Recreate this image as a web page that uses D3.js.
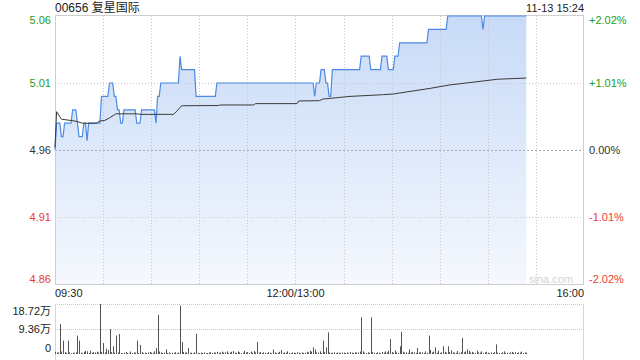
<!DOCTYPE html>
<html>
<head>
<meta charset="utf-8">
<script src="https://cdn.jsdelivr.net/npm/d3@7"></script>
<style>
  body { margin: 0; background: #fff; }
  svg { display: block; font-family: "Liberation Sans", Arial, "Noto Sans CJK SC", sans-serif; }
</style>
</head>
<body>
<div id="chart"></div>
<script>
const title = '00656 复星国际';
const stamp = '11-13 15:24';
const prevClose = 4.96;
const priceTicks = [5.06, 5.01, 4.96, 4.91, 4.86];
const pctTicks = ['+2.02%', '+1.01%', '0.00%', '-1.01%', '-2.02%'];
const timeTicks = [[0, '09:30'], [150, '12:00/13:00'], [330, '16:00']];
const volTicks = [[18.72, '18.72万'], [9.36, '9.36万'], [0, '0']];

// price changes: [minute from open, price]
const priceRuns = [
    [0, 4.96], [1, 4.98], [4, 4.97], [6, 4.98], [11, 4.99], [14, 4.98], [15, 4.97],
    [18, 4.98], [20, 4.967], [21, 4.98], [29, 5.00], [34, 5.01], [37, 5.00], [39, 4.99],
    [41, 4.98], [43, 4.99], [51, 4.98], [54, 4.99], [63, 4.98], [64, 5.00], [66, 5.01],
    [78, 5.03], [79, 5.02], [88, 5.00], [101, 5.01], [162, 5.00], [163, 5.01], [166, 5.02],
    [169, 5.01], [171, 5.00], [173, 5.02], [191, 5.03], [197, 5.02], [204, 5.03],
    [208, 5.02], [212, 5.03], [215, 5.04], [233, 5.05], [245, 5.06], [267, 5.05], [268, 5.06]
];
const lastMinute = 294;

// average price line, read at points
const avgPoints = [
    [0, 4.962], [1, 4.9886], [4, 4.983], [13, 4.9815], [17, 4.980], [26, 4.980], [28, 4.9817],
    [31, 4.982], [34, 4.984], [38, 4.987], [51, 4.987], [53, 4.9866], [74, 4.9866],
    [76, 4.989], [79, 4.993], [102, 4.9932], [103, 4.9936], [124, 4.9936], [125, 4.9946],
    [151, 4.9946], [152, 4.9966], [165, 4.9968], [167, 4.998], [184, 5.000], [205, 5.0013],
    [211, 5.0018], [234, 5.006], [246, 5.0085], [267, 5.0115], [276, 5.0128], [294, 5.0137]
];

// volume per minute, in 万
const volumes = [
    0.8, 0.5, 0.6, 11.2, 0.9, 5.0, 0.7, 0.4, 5.0, 0.6,
    0.3, 0.5, 0.4, 0.6, 6.9, 5.0, 0.5, 0.3, 0.8, 1.1,
    1.0, 0.4, 1.2, 0.5, 0.7, 0.6, 0.9, 0.5, 18.72, 0.8,
    4.1, 0.6, 2.0, 1.5, 9.36, 0.7, 2.9, 0.5, 6.9, 0.6,
    7.5, 0.4, 0.3, 0.5, 0.8, 0.4, 0.3, 0.9, 0.4, 0.6,
    0.5, 5.0, 0.4, 3.4, 0.7, 0.3, 0.5, 0.4, 0.6, 0.8,
    0.5, 0.4, 1.0, 2.2, 14.7, 0.9, 0.6, 0.4, 0.5, 1.7,
    0.4, 0.6, 0.3, 0.5, 0.4, 0.7, 0.3, 0.5, 18.1, 4.5,
    0.8, 0.5, 0.6, 2.2, 0.4, 0.5, 0.3, 0.6, 7.5, 0.4,
    0.3, 0.5, 0.4, 0.6, 0.3, 0.4, 0.5, 0.7, 0.4, 0.6,
    0.5, 0.8, 0.4, 0.6, 0.9, 0.5, 0.7, 1.0, 0.4, 0.6,
    0.8, 1.1, 0.5, 0.4, 0.9, 0.6, 0.3, 0.5, 1.2, 0.6,
    0.7, 0.4, 0.9, 0.5, 1.1, 0.6, 4.5, 0.5, 0.8, 0.4,
    0.6, 0.5, 0.4, 0.7, 0.5, 0.3, 1.7, 0.6, 0.4, 0.5,
    0.8, 1.5, 0.4, 0.6, 0.5, 1.0, 0.4, 0.3, 0.6, 0.5,
    0.4, 0.7, 0.5, 0.3, 0.6, 0.4, 0.5, 0.8, 0.6, 1.2,
    0.9, 2.5, 1.7, 0.6, 0.5, 1.0, 0.4, 5.0, 0.8, 2.5,
    8.1, 0.6, 0.4, 0.5, 0.7, 0.3, 0.6, 0.5, 0.4, 0.6,
    0.5, 0.4, 0.6, 0.3, 0.8, 0.5, 0.4, 0.7, 0.5, 0.6,
    0.9, 13.7, 1.0, 0.5, 0.4, 0.6, 0.5, 13.7, 0.7, 0.5,
    0.4, 0.6, 0.5, 0.3, 0.8, 0.5, 1.0, 0.6, 1.2, 5.6,
    0.7, 0.5, 1.3, 0.6, 0.4, 2.9, 8.3, 0.9, 0.5, 0.6,
    0.4, 1.7, 0.5, 0.8, 0.6, 0.4, 2.2, 0.5, 0.7, 0.6,
    0.4, 1.0, 0.5, 6.9, 1.5, 0.6, 0.9, 2.5, 0.5, 1.3,
    0.4, 0.6, 2.9, 0.8, 0.5, 2.9, 0.7, 1.4, 0.6, 0.5,
    0.4, 1.1, 0.5, 0.7, 6.0, 0.6, 1.0, 1.7, 1.2, 0.6,
    0.8, 0.5, 0.4, 1.2, 0.6, 0.5, 1.0, 0.4, 0.6, 0.8,
    0.5, 0.3, 0.6, 0.4, 0.7, 3.6, 0.5, 0.4, 0.3, 0.6,
    1.0, 0.4, 0.5, 0.3, 0.6, 0.8, 0.5, 0.7, 0.4, 0.6,
    0.5, 0.9, 0.4, 0.6, 0.5
];

const W = 640, H = 360;
const plotLeft = 55, plotRight = 584, plotTop = 16, plotBottom = 284;
const volTop = 304, volBottom = 354;
const green = '#22a022', red = '#ec3b30', grey = '#333';

// hold each price until the next change, one point per minute
let prices = [];
let r = 0;
for (let m = 0; m <= lastMinute; m++) {
    while (r + 1 < priceRuns.length && priceRuns[r + 1][0] <= m) r++;
    prices.push({m: m, p: priceRuns[r][1]});
}

const svg = d3.select('#chart').append('svg')
    .attr('width', W)
    .attr('height', H);

const x = d3.scaleLinear().domain([0, 330]).range([plotLeft, plotRight]);
const y = d3.scaleLinear().domain([4.86, 5.06]).range([plotBottom, plotTop]);
const yv = d3.scaleLinear().domain([0, 18.72]).range([volBottom, volTop]);

const grad = svg.append('defs').append('linearGradient')
    .attr('id', 'fillGrad')
    .attr('gradientUnits', 'userSpaceOnUse')
    .attr('x1', 0).attr('x2', 0)
    .attr('y1', plotTop).attr('y2', plotBottom);
grad.append('stop').attr('offset', 0).attr('stop-color', '#c7daf7');
grad.append('stop').attr('offset', 1).attr('stop-color', '#f5f8fe');

// area under price
svg.append('path')
    .datum(prices)
    .attr('fill', 'url(#fillGrad)')
    .attr('d', d3.area().x(d => x(d.m)).y0(plotBottom).y1(d => y(d.p)));

// grid
const gridColor = '#c8c8c8';
svg.append('g').selectAll('line')
    .data(d3.range(30, 330, 30))
    .enter().append('line')
    .attr('x1', d => Math.round(x(d)) + 0.5).attr('x2', d => Math.round(x(d)) + 0.5)
    .attr('y1', plotTop).attr('y2', plotBottom)
    .attr('stroke', gridColor)
    .attr('stroke-dasharray', '1,2');

svg.append('g').selectAll('line')
    .data([5.01, 4.96, 4.91])
    .enter().append('line')
    .attr('x1', plotLeft).attr('x2', plotRight)
    .attr('y1', d => Math.round(y(d)) + 0.5).attr('y2', d => Math.round(y(d)) + 0.5)
    .attr('stroke', d => d === prevClose ? '#aaa' : gridColor)
    .attr('stroke-dasharray', d => d === prevClose ? '2,2' : '1,2');

// frame
svg.append('rect')
    .attr('x', plotLeft + 0.5).attr('y', plotTop - 0.5)
    .attr('width', plotRight - plotLeft - 1).attr('height', plotBottom - plotTop + 1)
    .attr('fill', 'none')
    .attr('stroke', '#cfcfcf');

// watermark
svg.append('text')
    .attr('x', plotRight - 11).attr('y', plotBottom - 1)
    .attr('text-anchor', 'end')
    .attr('font-size', 11)
    .attr('fill', '#d4d4d4')
    .text('sina.com');

// price line and average line
svg.append('path')
    .datum(prices)
    .attr('fill', 'none')
    .attr('stroke', '#4e8ae4')
    .attr('stroke-width', 1.2)
    .attr('d', d3.line().x(d => x(d.m)).y(d => y(d.p)));

svg.append('path')
    .datum(avgPoints)
    .attr('fill', 'none')
    .attr('stroke', '#3a3a3a')
    .attr('stroke-width', 1)
    .attr('d', d3.line().x(d => x(d[0])).y(d => y(d[1])));

// price labels
const tickColor = (i) => i < 2 ? green : (i === 2 ? grey : red);
const labelY = (v) => Math.min(Math.max(y(v), plotTop + 4), plotBottom - 5) + 4;

svg.append('g').selectAll('text')
    .data(priceTicks)
    .enter().append('text')
    .attr('x', plotLeft - 4)
    .attr('y', d => labelY(d))
    .attr('text-anchor', 'end')
    .attr('font-size', 11)
    .attr('fill', (d, i) => tickColor(i))
    .text(d => d.toFixed(2));

svg.append('g').selectAll('text')
    .data(pctTicks)
    .enter().append('text')
    .attr('x', plotRight + 5)
    .attr('y', (d, i) => labelY(priceTicks[i]))
    .attr('font-size', 11)
    .attr('fill', (d, i) => tickColor(i))
    .text(d => d);

// header
svg.append('text')
    .attr('x', plotLeft).attr('y', 12)
    .attr('font-size', 12)
    .attr('fill', '#222')
    .text(title);

svg.append('text')
    .attr('x', plotRight).attr('y', 12)
    .attr('text-anchor', 'end')
    .attr('font-size', 11)
    .attr('fill', '#222')
    .text(stamp);

// time labels
svg.append('g').selectAll('text')
    .data(timeTicks)
    .enter().append('text')
    .attr('x', d => x(d[0]))
    .attr('y', 297)
    .attr('text-anchor', (d, i) => i === 0 ? 'start' : (i === timeTicks.length - 1 ? 'end' : 'middle'))
    .attr('font-size', 11)
    .attr('fill', '#222')
    .text(d => d[1]);

// volume panel
svg.append('g').selectAll('line')
    .data([18.72, 9.36])
    .enter().append('line')
    .attr('x1', plotLeft).attr('x2', plotRight)
    .attr('y1', d => Math.round(yv(d)) + 0.5).attr('y2', d => Math.round(yv(d)) + 0.5)
    .attr('stroke', gridColor)
    .attr('stroke-dasharray', '1,1');

svg.append('g').selectAll('line')
    .data([plotLeft + 0.5, plotRight - 0.5])
    .enter().append('line')
    .attr('x1', d => d).attr('x2', d => d)
    .attr('y1', volTop).attr('y2', H)
    .attr('stroke', '#d6d6d6');

svg.append('g').selectAll('rect')
    .data(volumes)
    .enter().append('rect')
    .attr('x', (d, i) => Math.round(x(i)))
    .attr('y', d => yv(d))
    .attr('width', 1)
    .attr('height', d => volBottom - yv(d))
    .attr('fill', '#555');

const volLabelY = [yv(18.72) + 11, yv(9.36) + 4, yv(0) - 2];
svg.append('g').selectAll('text')
    .data(volTicks)
    .enter().append('text')
    .attr('x', plotLeft - 4)
    .attr('y', (d, i) => volLabelY[i])
    .attr('text-anchor', 'end')
    .attr('font-size', 11)
    .attr('fill', '#222')
    .text(d => d[1]);
</script>
</body>
</html>
